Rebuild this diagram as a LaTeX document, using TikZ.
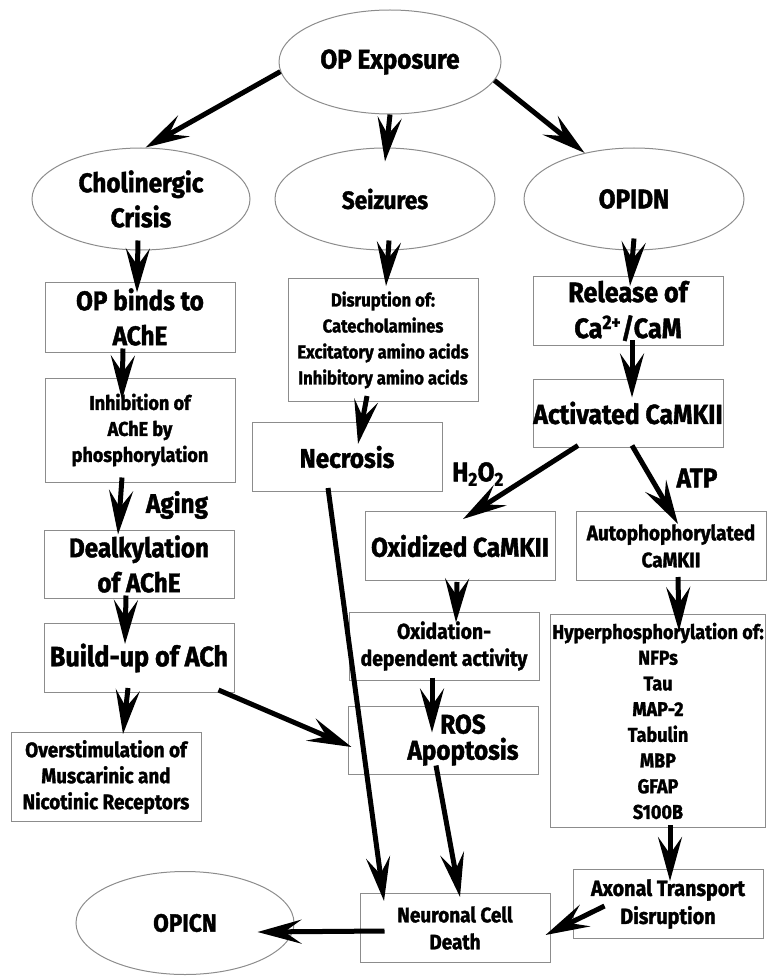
\documentclass[tikz,border=0pt]{standalone}
\usepackage{fontspec}
\setmainfont{Fira Sans}[FakeStretch=0.9, BoldFeatures={FakeBold=1.5}]
\usetikzlibrary{arrows.meta,shapes.geometric}

\begin{document}
\begin{tikzpicture}[x=1pt, y=-1pt,
    big/.style={font=\bfseries\fontsize{27}{35}\selectfont},
    small/.style={font=\bfseries\fontsize{20}{26}\selectfont},
    box/.style={draw=black!45, line width=1pt, rectangle, minimum width=190pt, minimum height=69pt, inner sep=0pt, align=center},
    oval/.style={draw=black!45, line width=1pt, ellipse, minimum width=220pt, minimum height=102pt, inner sep=0pt, align=center, big},
    arr/.style={-{Stealth[length=44pt, width=24pt, inset=17pt]}, line width=5pt}]
    \useasboundingbox (0,0) rectangle (768,976);

    % Elipses
    \node[oval, minimum width=222pt, minimum height=104pt] (opexp) at (390,62) {OP Exposure};
    \node[oval, minimum width=218pt] (chol) at (141,199) {Cholinergic\\Crisis};
    \node[oval, font=\bfseries\fontsize{25}{35}\selectfont] (seiz) at (385,199) {Seizures};
    \node[oval] (opidn) at (634,199) {OPIDN};
    \node[oval, font=\bfseries\fontsize{25}{35}\selectfont, minimum width=218pt, minimum height=103pt] (opicn) at (185,923) {OPICN};

    % Coluna da esquerda
    \node[box, big, minimum height=70pt] (binds) at (140,317) {OP binds to\\AChE};
    \node[box, small, minimum height=104pt] (inhib) at (140,430) {Inhibition of\\AChE by\\phosphorylation};
    \node[box, big, minimum height=68pt] (dealk) at (139,564) {Dealkylation\\of AChE};
    \node[box, big, font=\bfseries\fontsize{28}{35}\selectfont] (buildup) at (139,658) {Build-up of ACh};
    \node[box, small, font=\bfseries\fontsize{21}{26}\selectfont, minimum height=89pt] (overstim) at (106,777) {Overstimulation of\\Muscarinic and\\Nicotinic Receptors};

    % Coluna do meio
    \node[box, small, font=\bfseries\fontsize{18.5}{26}\selectfont, minimum height=123pt] (disrupt) at (383,340) {Disruption of:\\Catecholamines\\Excitatory amino acids\\Inhibitory amino acids};
    \node[box, big] (necrosis) at (347,457) {Necrosis};
    \node[box, big] (oxid) at (460,546) {Oxidized CaMKII};
    \node[box, small, font=\bfseries\fontsize{21.5}{27}\selectfont, minimum height=68pt] (oxdep) at (444,646) {Oxidation-\\dependent activity};
    \node[box, font=\bfseries\fontsize{27}{26}\selectfont, minimum height=68pt] (ros) at (443,740) {\hspace*{40pt}ROS\\\hspace*{40pt}Apoptosis};
    \node[box, small, font=\bfseries\fontsize{21}{27}\selectfont] (death) at (455,928) {Neuronal Cell\\Death};

    % Coluna da direita
    \node[box, big, font=\bfseries\fontsize{28}{36}\selectfont] (release) at (628,311) {Release of\\Ca\textsuperscript{2+}/CaM};
    \node[box, big, font=\bfseries\fontsize{27.5}{34}\selectfont, minimum height=68pt] (activ) at (628,413) {Activated CaMKII};
    \node[box, small, font=\bfseries\fontsize{21}{27}\selectfont] (autoph) at (671,546) {Autophophorylated\\CaMKII};
    \node[box, small, font=\bfseries\fontsize{20}{25.7}\selectfont, minimum width=215pt, minimum height=213pt] (hyper) at (658,721) {Hyperphosphorylation of:\\NFPs\\Tau\\MAP-2\\Tabulin\\MBP\\GFAP\\S100B};
    \node[box, small, font=\bfseries\fontsize{22}{28}\selectfont] (axonal) at (668,904) {Axonal Transport\\Disruption};

    % Rótulos das setas
    \node[big] (aging) at (177,505) {Aging};
    \node[big] (h2o2) at (478,474) {H\textsubscript{2}O\textsubscript{2}};
    \node[big] (atp) at (697,478) {ATP};

    % Setas de cima
    \draw[arr] (opexp.185) -- (chol.85);
    \draw[arr] (opexp.south) -- ([yshift=-14pt]seiz.north);
    \draw[arr] (opexp.-10) -- (opidn.137);
    \draw[arr] ([xshift=-3pt, yshift=10pt]chol.south) -- ([xshift=-3pt, yshift=-11pt]binds.north);
    \draw[arr] ([xshift=4pt, yshift=10pt]seiz.south) -- ([xshift=3pt, yshift=-8pt]disrupt.north);
    \draw[arr] ([yshift=12pt]opidn.south) -- ([xshift=2pt, yshift=-10pt]release.north);

    % Setas da esquerda
    \draw[arr] ([xshift=-17pt, yshift=4pt]binds.south) -- ([xshift=-18pt, yshift=-22pt]inhib.north);
    \draw[arr] ([xshift=-18pt, yshift=5pt]inhib.south) -- ([xshift=-21pt, yshift=-5pt]dealk.north);
    \draw[arr] ([xshift=-13pt, yshift=3pt]dealk.south) -- ([xshift=-14pt, yshift=-21pt]buildup.north);
    \draw[arr] ([xshift=-11pt, yshift=5pt]buildup.south) -- ([xshift=17pt, yshift=-2pt]overstim.north);
    \draw[arr] ([xshift=-16pt, yshift=3pt]buildup.south east) -- ([xshift=4pt, yshift=-7pt]ros.west);

    % Setas do meio
    \draw[arr] ([xshift=-16pt, yshift=6pt]disrupt.south) -- ([xshift=11pt, yshift=-22pt]necrosis.north);
    \draw[arr] ([xshift=-19pt, yshift=4pt]necrosis.south) -- ([xshift=-71pt, yshift=-8pt]death.north);
    \draw[arr] ([xshift=-3pt, yshift=-1pt]oxid.south) -- ([xshift=12pt, yshift=-11pt]oxdep.north);
    \draw[arr] ([xshift=-12pt, yshift=3pt]oxdep.south) -- ([xshift=-11pt, yshift=-27pt]ros.north);
    \draw[arr] ([xshift=-7pt, yshift=9pt]ros.south) -- ([xshift=5pt, yshift=-4pt]death.north);

    % Setas da direita
    \draw[arr] ([xshift=4pt, yshift=6pt]release.south) -- ([xshift=4pt, yshift=-19pt]activ.north);
    \draw[arr] ([xshift=-50pt, yshift=2pt]activ.south) -- ([xshift=3pt, yshift=-8pt]oxid.north);
    \draw[arr] ([xshift=4pt, yshift=2pt]activ.south) -- ([xshift=7pt, yshift=-13pt]autoph.north);
    \draw[arr] ([xshift=7pt, yshift=4pt]autoph.south) -- ([xshift=21pt, yshift=-17pt]hyper.north);
    \draw[arr] ([xshift=12pt, yshift=3pt]hyper.south) -- ([xshift=2pt, yshift=-12pt]axonal.north);
    \draw[arr] ([xshift=32pt, yshift=-2pt]axonal.west) -- ([xshift=-5pt, yshift=-7pt]death.east);

    % Seta para OPICN
    \draw[arr] ([xshift=25pt, yshift=-3pt]death.west) -- ([xshift=-37pt, yshift=-9pt]opicn.east);
\end{tikzpicture}
\end{document}
